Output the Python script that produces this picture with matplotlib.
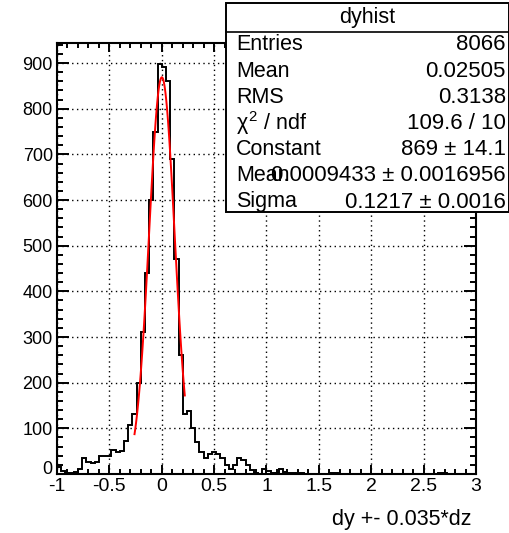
import matplotlib
matplotlib.use("Agg")
import matplotlib.pyplot as plt
import numpy as np
from matplotlib.patches import Rectangle
from matplotlib.lines import Line2D
from matplotlib.ticker import MultipleLocator, FixedLocator
from matplotlib.transforms import ScaledTranslation

plt.rcParams["font.family"] = ["Liberation Sans", "DejaVu Sans"]
plt.rcParams["mathtext.fontset"] = "custom"
plt.rcParams["mathtext.rm"] = "Liberation Sans"
plt.rcParams["mathtext.it"] = "Liberation Sans"
plt.rcParams["axes.unicode_minus"] = False

# histogram: 100 bins of 0.04 between -1 and 3
x_min, x_max, n_bins = -1.0, 3.0, 100
counts = [
    15, 7, 3, 3, 4, 10, 34, 27, 23, 27,
    39, 39, 39, 52, 48, 50, 72, 108, 131, 200,
    310, 440, 600, 750, 899, 892, 860, 690, 470, 260,
    132, 137, 100, 71, 49, 34, 44, 49, 44, 34,
    20, 12, 20, 36, 30, 20, 9, 3, 1, 10,
    7, 3, 3, 11, 5, 2, 3, 1, 2, 1,
    0, 1, 0, 0, 1, 2, 3, 1, 0, 0,
    0, 0, 0, 0, 0, 0, 0, 0, 0, 0,
    0, 0, 0, 0, 0, 0, 0, 0, 0, 0,
    1, 2, 2, 1, 0, 0, 0, 0, 0, 0,
]

# gaussian fit shown in red
fit_const, fit_mean, fit_sigma = 869.0, 0.0009433, 0.1217
fit_range = (-0.26, 0.22)

x_ticks = [-1, -0.5, 0, 0.5, 1, 1.5, 2, 2.5, 3]
x_tick_labels = ["-1", "-0.5", "0", "0.5", "1", "1.5", "2", "2.5", "3"]
y_ticks = [0, 100, 200, 300, 400, 500, 600, 700, 800, 900]

stats_title = "dyhist"
stats_names = ["Entries", "Mean", "RMS", r"$\chi^{2}$ / ndf", "Constant", "Mean", "Sigma"]
stats_values = ["8066", "0.02505", "0.3138", "109.6 / 10",
                "869 \u00b1 14.1", "0.0009433 \u00b1 0.0016956", "0.1217 \u00b1 0.0016"]

W, H = 510, 533
fig = plt.figure(figsize=(W / 100, H / 100), dpi=100)
ax = fig.add_axes([57 / W, 1 - 474 / H, (476 - 57) / W, (474 - 43) / H])

edges = np.linspace(x_min, x_max, n_bins + 1)
ax.stairs(counts, edges, color="black", lw=1.4, baseline=None)

xf = np.linspace(fit_range[0], fit_range[1], 100)
yf = fit_const * np.exp(-0.5 * ((xf - fit_mean) / fit_sigma) ** 2)
ax.plot(xf, yf, color="red", lw=1.4)

ax.set_xlim(x_min, x_max)
ax.set_ylim(0, 1.05 * max(counts))

ax.xaxis.set_major_locator(FixedLocator(x_ticks))
ax.set_xticklabels(x_tick_labels)
ax.xaxis.set_minor_locator(MultipleLocator(0.1))
ax.yaxis.set_major_locator(FixedLocator(y_ticks))
ax.yaxis.set_minor_locator(MultipleLocator(20))

ax.tick_params(axis="both", which="both", direction="in", top=True, right=True,
               width=1.4, colors="black")
ax.tick_params(axis="x", which="major", length=6.8, pad=3, labelsize=14)
ax.tick_params(axis="x", which="minor", length=3.6)
ax.tick_params(axis="y", which="major", length=8.8, pad=3, labelsize=13)
ax.tick_params(axis="y", which="minor", length=4.6)

# the "0" on the y axis sits a little higher, clear of the "-1" below it
zero_lbl = ax.get_yticklabels()[0]
zero_lbl.set_transform(zero_lbl.get_transform() + ScaledTranslation(0, 5 / 72, fig.dpi_scale_trans))

ax.grid(True, which="major", color="black", lw=1.0, ls=(0, (1, 2.5)))
for sp in ax.spines.values():
    sp.set_linewidth(1.5)

fig.text(471 / W, 1 - 520 / H, "dy +- 0.035*dz", ha="right", va="center", fontsize=15.5)


def fx(px):
    return px / W


def fy(py):
    return 1 - py / H


# stats box
box_l, box_r, box_t, box_b = 226, 509, 3, 212
fig.patches.append(Rectangle((fx(box_l), fy(box_b)), fx(box_r) - fx(box_l), fy(box_t) - fy(box_b),
                             transform=fig.transFigure, facecolor="white", edgecolor="black",
                             lw=1.4, zorder=5))
fig.lines.append(Line2D([fx(box_l), fx(box_r)], [fy(32), fy(32)], transform=fig.transFigure,
                        color="black", lw=1.2, zorder=6))
fig.text(fx((box_l + box_r) / 2), fy(17), stats_title, ha="center", va="center",
         fontsize=15.5, zorder=7)
row_y = np.linspace(45, 202, len(stats_names))
for name, value, y in zip(stats_names, stats_values, row_y):
    fig.text(fx(236), fy(y), name, ha="left", va="center", fontsize=15.5, zorder=7)
    fig.text(fx(506), fy(y), value, ha="right", va="center", fontsize=16, zorder=7)

fig.savefig("out.png", dpi=100)
